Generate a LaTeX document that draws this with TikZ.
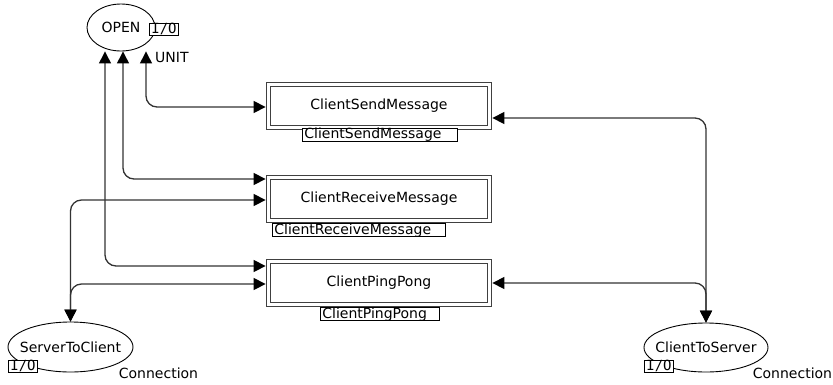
\documentclass[tikz,border=0pt]{standalone}
\usepackage{fontspec}
\setmainfont{DejaVu Sans}
\newfontfamily\iofont{DejaVu Sans Mono}
\usetikzlibrary{arrows.meta,shapes.geometric}

\begin{document}
\begin{tikzpicture}
    [x=1pt, y=-1pt,
     every node/.style={font=\fontsize{14}{16}\selectfont},
     place/.style={draw, ellipse, line width=0.9pt, inner sep=0pt},
     trans/.style={draw=black!75, double, double distance=3.5pt, line width=1.1pt,
       minimum width=221pt, minimum height=43pt, outer sep=2.9pt},
     iotag/.style={draw, fill=white, line width=0.8pt, inner xsep=1.5pt, inner ysep=0.5pt,
       font=\iofont\fontsize{14}{16}\selectfont, text height=9.5pt, text depth=1.5pt},
     nametag/.style={draw, fill=white, line width=0.8pt, anchor=west, align=left,
       inner xsep=2pt, inner ysep=0.5pt, text height=10pt, text depth=2pt},
     label/.style={inner sep=0pt, anchor=base},
     cpnarc/.style={draw=black!80, line width=1.3pt, rounded corners=11pt,
       {Triangle[length=12pt,width=12pt,black]}-{Triangle[length=12pt,width=12pt,black]}}]
    \useasboundingbox (0,0) rectangle (833,384);

    \node[place, minimum width=68pt, minimum height=47pt] (open) at (121,27.5) {\makebox[0pt]{OPEN}};
    \node[iotag] (openio) at (164,29) {I/O};
    \node[label, anchor=base west] (unit) at (155,62) {UNIT};

    \node[trans] (send) at (379,106) {ClientSendMessage};
    \node[trans] (recv) at (379,199) {ClientReceiveMessage};
    \node[trans] (ping) at (379,283) {ClientPingPong};
    \node[nametag, text width=151pt] (sendtag) at (302,134.5) {ClientSendMessage};
    \node[nametag, text width=169pt] (recvtag) at (272,230) {ClientReceiveMessage};
    \node[nametag, text width=115pt] (pingtag) at (320,314) {ClientPingPong};

    \node[place, minimum width=125pt, minimum height=50pt] (s2c) at (70.5,347) {\makebox[0pt]{ServerToClient}};
    \node[iotag] (s2cio) at (23,366) {I/O};
    \node[label] (s2cconn) at (158.5,378) {Connection};
    \node[place, minimum width=124pt, minimum height=49pt] (c2s) at (706,347.5) {\makebox[0pt]{ClientToServer}};
    \node[iotag] (c2sio) at (659,366) {I/O};
    \node[label] (c2sconn) at (792.5,378) {Connection};

    \draw[cpnarc] (open.south -| 146,0) |- (send.west |- 0,107);
    \draw[cpnarc] (open.south -| 123,0) |- (recv.west |- 0,179);
    \draw[cpnarc] (open.south -| 105,0) |- (ping.west |- 0,266);
    \draw[cpnarc] (s2c.north) |- (recv.west |- 0,200);
    \draw[cpnarc] (s2c.north) |- (ping.west |- 0,284);
    \draw[cpnarc] (c2s.north) |- (send.east |- 0,118);
    \draw[cpnarc] (c2s.north) |- (ping.east |- 0,283);
\end{tikzpicture}
\end{document}
